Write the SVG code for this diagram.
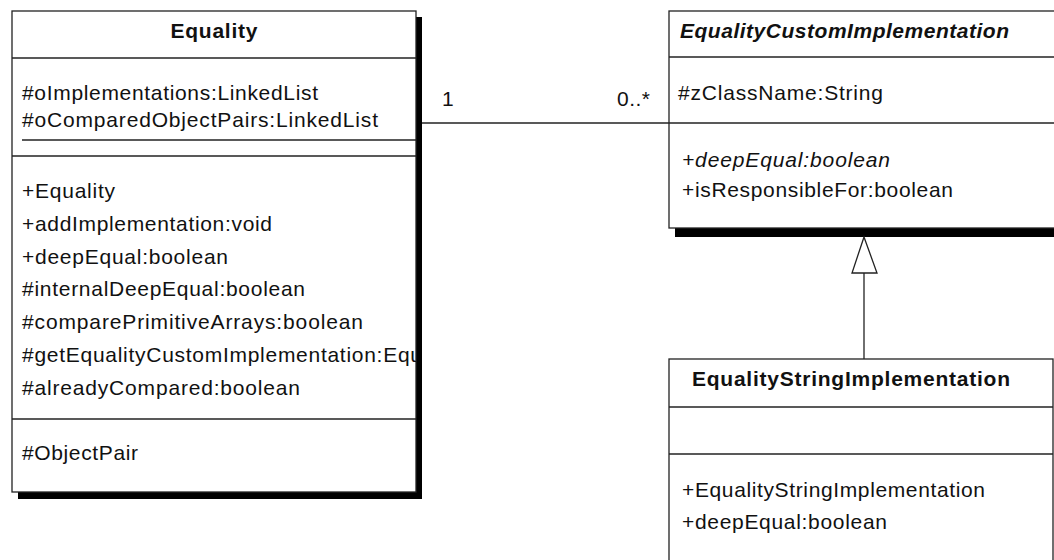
<svg xmlns="http://www.w3.org/2000/svg" width="1054" height="560" viewBox="0 0 1054 560">
  <style>
    .box { fill: #ffffff; stroke: #222222; stroke-width: 1.3; }
    .shadow { fill: #000000; }
    .sep { stroke: #222222; stroke-width: 1.3; fill: none; }
    .t { font-family: "Liberation Sans", Arial, sans-serif; font-size: 21px; fill: #111111; }
    .title { font-weight: bold; }
    .it { font-style: italic; }
    .conn { stroke: #222222; stroke-width: 1.3; fill: none; }
  </style>
  <defs>
    <clipPath id="clipEquality">
      <rect x="12" y="11" width="404" height="481"/>
    </clipPath>
  </defs>
  <rect x="0" y="0" width="1054" height="560" fill="#ffffff"/>

  <!-- Class: Equality -->
  <g id="equality">
    <rect class="shadow" x="18" y="17" width="404" height="482"/>
    <rect class="box" x="12" y="11" width="404" height="481"/>
    <text class="t title" x="214" y="38" text-anchor="middle" textLength="87" lengthAdjust="spacing">Equality</text>
    <line class="sep" x1="12" y1="58" x2="416" y2="58"/>
    <text class="t" x="22" y="100" textLength="296" lengthAdjust="spacing">#oImplementations:LinkedList</text>
    <text class="t" x="22" y="127" textLength="356" lengthAdjust="spacing">#oComparedObjectPairs:LinkedList</text>
    <line class="sep" x1="22" y1="140" x2="416" y2="140"/>
    <line class="sep" x1="12" y1="156" x2="416" y2="156"/>
    <text class="t" x="22" y="198" textLength="93" lengthAdjust="spacing">+Equality</text>
    <text class="t" x="22" y="231" textLength="250" lengthAdjust="spacing">+addImplementation:void</text>
    <text class="t" x="22" y="264" textLength="206" lengthAdjust="spacing">+deepEqual:boolean</text>
    <text class="t" x="22" y="296" textLength="283" lengthAdjust="spacing">#internalDeepEqual:boolean</text>
    <text class="t" x="22" y="329" textLength="341" lengthAdjust="spacing">#comparePrimitiveArrays:boolean</text>
    <g clip-path="url(#clipEquality)">
      <text class="t" x="22" y="362" textLength="400" lengthAdjust="spacing">#getEqualityCustomImplementation:Equ</text>
    </g>
    <text class="t" x="22" y="395" textLength="278" lengthAdjust="spacing">#alreadyCompared:boolean</text>
    <line class="sep" x1="12" y1="419" x2="416" y2="419"/>
    <text class="t" x="22" y="460" textLength="116" lengthAdjust="spacing">#ObjectPair</text>
  </g>

  <!-- Class: EqualityCustomImplementation (abstract) -->
  <g id="equalityCustomImplementation">
    <rect class="shadow" x="675" y="17" width="400" height="220"/>
    <rect class="box" x="669" y="11" width="400" height="217"/>
    <text class="t title it" x="680" y="38" textLength="329" lengthAdjust="spacing">EqualityCustomImplementation</text>
    <line class="sep" x1="669" y1="57" x2="1069" y2="57"/>
    <text class="t" x="678" y="100" textLength="205" lengthAdjust="spacing">#zClassName:String</text>
    <line class="sep" x1="669" y1="123" x2="1069" y2="123"/>
    <text class="t it" x="682" y="167" textLength="208" lengthAdjust="spacing">+deepEqual:boolean</text>
    <text class="t" x="682" y="197" textLength="271" lengthAdjust="spacing">+isResponsibleFor:boolean</text>
  </g>

  <!-- Class: EqualityStringImplementation -->
  <g id="equalityStringImplementation">
    <rect class="box" x="669" y="359" width="384" height="220"/>
    <text class="t title" x="692" y="386" textLength="318" lengthAdjust="spacing">EqualityStringImplementation</text>
    <line class="sep" x1="669" y1="407" x2="1053" y2="407"/>
    <line class="sep" x1="669" y1="454" x2="1053" y2="454"/>
    <text class="t" x="682" y="497" textLength="303" lengthAdjust="spacing">+EqualityStringImplementation</text>
    <text class="t" x="682" y="529" textLength="205" lengthAdjust="spacing">+deepEqual:boolean</text>
  </g>

  <!-- Connectors -->
  <g id="connectors">
    <!-- association Equality 1 — 0..* EqualityCustomImplementation -->
    <line class="conn" x1="422" y1="123" x2="669" y2="123"/>
    <text class="t" x="442" y="106">1</text>
    <text class="t" x="617" y="106" textLength="33" lengthAdjust="spacing">0..*</text>
    <!-- generalization EqualityStringImplementation -> EqualityCustomImplementation -->
    <line class="conn" x1="864" y1="359" x2="864" y2="273"/>
    <polygon class="conn" fill="#ffffff" points="864,237 852,273 877,273"/>
  </g>
</svg>
